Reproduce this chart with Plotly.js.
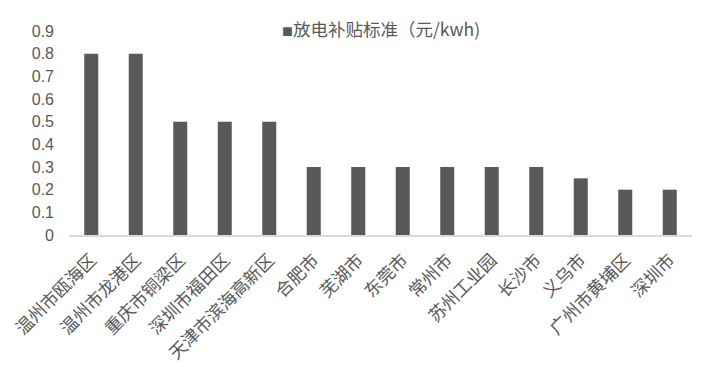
<!DOCTYPE html>
<html><head><meta charset="utf-8">
<script src="https://cdn.plot.ly/plotly-3.0.1.min.js"></script>
<style>html,body{margin:0;padding:0;background:#fff}#c{width:706px;height:367px}</style>
</head><body><div id="c"></div>
<script>
const categories = ["温州市瓯海区","温州市龙港区","重庆市铜梁区","深圳市福田区","天津市滨海高新区","合肥市","芜湖市","东莞市","常州市","苏州工业园","长沙市","义乌市","广州市黄埔区","深圳市"];
const seriesName = "放电补贴标准（元/kwh)";
const values = [0.8,0.8,0.5,0.5,0.5,0.3,0.3,0.3,0.3,0.3,0.3,0.25,0.2,0.2];
const yTicks = [0,0.1,0.2,0.3,0.4,0.5,0.6,0.7,0.8,0.9];
const font = "'Noto Sans CJK SC', 'Liberation Sans', sans-serif";
Plotly.newPlot('c', [{
  type:'bar', x:categories, y:values, name:seriesName,
  marker:{color:'#595959'}, showlegend:false
}], {
  width:706, height:367,
  margin:{l:69, r:14, t:31, b:132, autoexpand:false},
  paper_bgcolor:'#fff', plot_bgcolor:'#fff',
  bargap:0.685,
  font:{family:font, color:'#595959', size:17},
  showlegend:false,
  annotations:[{
    xref:'paper', yref:'paper', x:0.5, y:1.01, xanchor:'center', yanchor:'middle',
    text:'<span style="font-size:11px">■</span>' + seriesName,
    showarrow:false, font:{family:font, size:17.5, color:'#595959'}
  }],
  xaxis:{tickangle:-45, showline:true, linecolor:'#d9d9d9', linewidth:2, ticks:'', tickfont:{size:17.5, color:'#595959'}, ticklabelstandoff:6, fixedrange:true},
  yaxis:{range:[0,0.9], tickvals:yTicks, ticktext:yTicks.map(String), showgrid:false, zeroline:false, showline:false, ticks:'', tickfont:{family:"'Liberation Sans', sans-serif", size:16, color:'#595959'}, ticklabelstandoff:14}
}, {displayModeBar:false, staticPlot:true});
</script></body></html>
